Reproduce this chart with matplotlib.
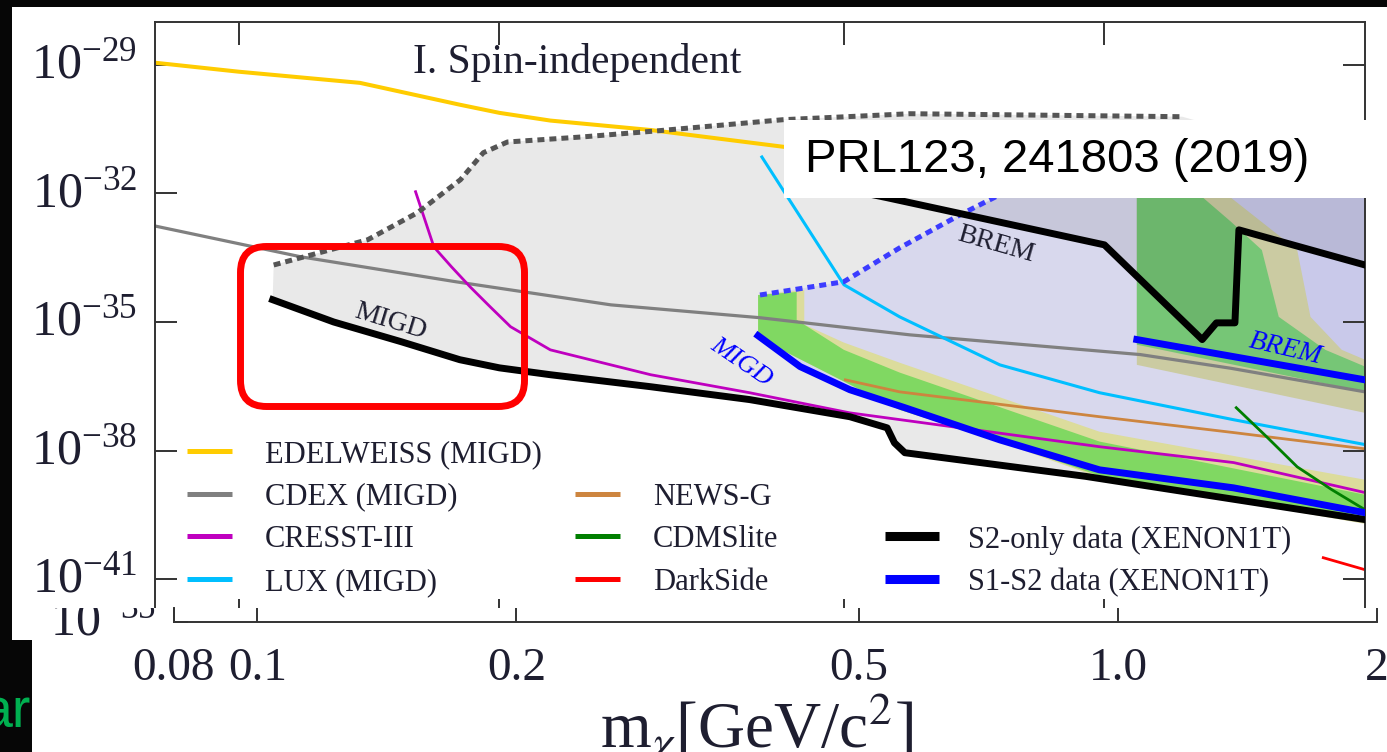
"""XENON1T light dark matter limits (Migdal / bremsstrahlung), slide crop."""

import numpy as np
import matplotlib
matplotlib.use("Agg")
import matplotlib.pyplot as plt
from matplotlib.patches import Rectangle, FancyBboxPatch
from matplotlib.ticker import NullLocator
from matplotlib.transforms import Bbox, TransformedBbox, ScaledTranslation

plt.rcParams["font.family"] = ["Liberation Serif", "DejaVu Serif"]
plt.rcParams["mathtext.fontset"] = "stix"

# ---- limit curves: mass [GeV/c^2] and log10(sigma / cm^2) ----
edelweiss_m = [0.08, 0.100, 0.138, 0.180, 0.200, 0.229, 0.299, 0.425, 0.75]
edelweiss_lg = [-28.95, -29.16, -29.42, -29.93, -30.12, -30.30, -30.52, -30.91, -31.45]

cdex_m = [0.08, 0.118, 0.178, 0.269, 0.40, 0.596, 1.10, 1.40, 2.0]
cdex_lg = [-32.76, -33.48, -34.06, -34.60, -34.90, -35.30, -35.76, -36.08, -36.63]

cresst_m = [0.160, 0.168, 0.176, 0.185, 0.195, 0.206, 0.229, 0.299, 0.389,
            0.508, 0.987, 1.41, 2.0]
cresst_lg = [-31.96, -33.25, -33.71, -34.18, -34.64, -35.11, -35.65, -36.23,
             -36.65, -37.12, -37.91, -38.28, -38.98]

lux_m = [0.402, 0.500, 0.580, 0.757, 0.987, 1.41, 2.0]
lux_lg = [-31.15, -34.13, -34.88, -36.00, -36.65, -37.28, -37.86]

newsg_m = [0.502, 0.580, 0.987, 1.41, 2.0]
newsg_lg = [-36.35, -36.63, -37.21, -37.58, -37.96]

cdmslite_m = [1.42, 1.54, 1.67, 1.83, 2.0]
cdmslite_lg = [-37.00, -37.68, -38.38, -38.91, -39.38]

darkside_m = [1.79, 2.0]
darkside_lg = [-40.50, -40.78]

# XENON1T S2-only (black) and S1-S2 (blue)
s2_migd_m = [0.1094, 0.1287, 0.154, 0.180, 0.200, 0.229, 0.299, 0.389, 0.508,
             0.561, 0.572, 0.588, 0.95, 2.0]
s2_migd_lg = [-34.48, -35.00, -35.46, -35.88, -36.07, -36.23, -36.51, -36.81,
              -37.21, -37.47, -37.82, -38.05, -38.60, -39.61]
s2_brem_m = [0.445, 0.561, 1.0, 1.297, 1.347, 1.415, 1.43, 2.0]
s2_brem_lg = [-31.68, -32.10, -33.20, -35.41, -35.02, -35.02, -32.85, -33.67]
s2_top_m = [0.1097, 0.1179, 0.1409, 0.1608, 0.1803, 0.1916, 0.2043, 0.2499,
            0.3043, 0.425, 0.596, 1.23]
s2_top_lg = [-33.67, -33.50, -33.08, -32.45, -31.68, -31.05, -30.80, -30.68,
             -30.54, -30.28, -30.14, -30.21]
s2_corner = (2.0, -31.4)

s1s2_migd_m = [0.398, 0.445, 0.508, 0.588, 0.757, 0.987, 1.41, 2.0]
s1s2_migd_lg = [-35.32, -36.04, -36.58, -37.00, -37.75, -38.45, -38.87, -39.45]
s1s2_brem_m = [1.09, 2.0]
s1s2_brem_lg = [-35.41, -36.35]
s1s2_top_m = [0.400, 0.500, 0.580, 0.681, 0.757, 1.0, 2.0]
s1s2_top_lg = [-34.37, -34.06, -33.27, -32.50, -32.03, -31.00, -31.40]

# sensitivity bands of the S1-S2 search
migd_2s_up_m = [0.398, 0.450, 0.450, 0.500, 0.580, 0.987, 2.0]
migd_2s_up_lg = [-34.37, -34.25, -35.06, -35.48, -35.95, -37.56, -38.68]
migd_2s_lo_m = [0.398, 0.580, 0.757, 0.987, 2.0]
migd_2s_lo_lg = [-35.37, -37.05, -37.80, -38.63, -39.71]
migd_1s_up_m = [0.398, 0.441, 0.441, 0.500, 0.580, 0.987, 2.0]
migd_1s_up_lg = [-34.37, -34.30, -34.95, -35.65, -36.18, -37.79, -39.03]
migd_1s_lo_m = [0.398, 0.580, 0.757, 0.987, 2.0]
migd_1s_lo_lg = [-35.37, -37.05, -37.78, -38.59, -39.61]

brem_region_m = [1.09, 2.0, 2.0, 1.09]
brem_region_lg = [-30.4, -30.4, -36.35, -35.41]
brem_1s_m = [1.09, 1.30, 1.30, 1.40, 1.52, 1.59, 1.80, 2.0, 2.0, 1.09]
brem_1s_lg = [-30.4, -30.4, -32.10, -32.66, -33.32, -34.88, -35.65, -36.04,
              -36.63, -35.53]
brem_2s_m = [1.09, 1.40, 1.40, 1.67, 1.73, 1.88, 2.0, 2.0, 1.09]
brem_2s_lg = [-30.4, -30.4, -32.10, -33.32, -34.88, -35.65, -35.88, -37.12,
              -36.00]

ytick_exp = [-29, -32, -35, -38, -41]
top_ticks = [0.1, 0.2, 0.5, 1.0]
low_ticks = [0.08, 0.1, 0.2, 0.5, 1.0, 2.0]
low_labels = ["0.08", "0.1", "0.2", "0.5", "1.0", "2"]

TXT = "#1e1e30"
W, H = 1387, 752


def frame(x0, y0, x1, y1):
    """Pixel box (origin top-left) -> figure fraction [l, b, w, h]."""
    return [x0 / W, 1 - y1 / H, (x1 - x0) / W, (y1 - y0) / H]


def xs(lg):
    return 10.0 ** np.asarray(lg)


def poly(m_a, lg_a, m_b=None, lg_b=None):
    mm = list(m_a) + (list(m_b)[::-1] if m_b is not None else [])
    ll = list(lg_a) + (list(lg_b)[::-1] if lg_b is not None else [])
    return mm, xs(ll)


fig = plt.figure(figsize=(W / 100, H / 100), dpi=100)
fig.patch.set_facecolor("#060606")
lift = ScaledTranslation(0, 0.05, fig.dpi_scale_trans)  # raise tick labels 5 px


def overlay(z):
    o = fig.add_axes([0, 0, 1, 1], zorder=z)
    o.set_xlim(0, W)
    o.set_ylim(H, 0)
    o.set_facecolor("none")
    o.axis("off")
    return o


back = overlay(-1)
back.add_patch(Rectangle((12, 7), W - 12, 633, fc="white", ec="none"))

# ---------------- main panel ----------------
ax = fig.add_axes(frame(155, 22, 1365, 622), zorder=0)
ax.set_xscale("log")
ax.set_yscale("log")
ax.set_xlim(0.08, 2.0)
ax.set_ylim(1e-42, 1e-28)

# excluded regions and bands
m, s = poly(s2_top_m + [s2_corner[0]], s2_top_lg + [s2_corner[1]], s2_migd_m, s2_migd_lg)
ax.fill(m, s, color="#e9e9e9", lw=0, zorder=1)
m, s = poly(s1s2_top_m, s1s2_top_lg, s1s2_migd_m, s1s2_migd_lg)
ax.fill(m, s, color="#d8d8ed", lw=0, zorder=1.1)
m, s = poly(brem_region_m, brem_region_lg)
ax.fill(m, s, color="#c9c9ea", lw=0, zorder=1.2)
m, s = poly(brem_2s_m, brem_2s_lg)
ax.fill(m, s, color="#cbcba2", lw=0, zorder=1.3)
m, s = poly(brem_1s_m, brem_1s_lg)
ax.fill(m, s, color="#76c676", lw=0, zorder=1.4)
m, s = poly(migd_2s_up_m, migd_2s_up_lg, migd_2s_lo_m, migd_2s_lo_lg)
ax.fill(m, s, color="#dcdc9c", lw=0, zorder=1.5)
m, s = poly(migd_1s_up_m, migd_1s_up_lg, migd_1s_lo_m, migd_1s_lo_lg)
ax.fill(m, s, color="#80d862", lw=0, zorder=1.6)

# overlap of the S2-only BREM region with the S1-S2 region
grid = np.logspace(np.log10(0.4), np.log10(2.0), 2000)
lg_black = np.interp(np.log10(grid), np.log10(s2_brem_m), s2_brem_lg)
lg_dot = np.interp(np.log10(grid), np.log10(s1s2_top_m), s1s2_top_lg)
ax.fill_between(grid, xs(lg_black), xs(lg_dot), where=lg_dot > lg_black,
                interpolate=True, color="black", alpha=0.08, lw=0, zorder=1.7)

# other experiments
ax.plot(edelweiss_m, xs(edelweiss_lg), color="#ffcc00", lw=2.9, zorder=2)
ax.plot(cdex_m, xs(cdex_lg), color="#808080", lw=2.3, zorder=2)
ax.plot(cresst_m, xs(cresst_lg), color="#bf00bf", lw=2.0, zorder=2)
ax.plot(lux_m, xs(lux_lg), color="#00bfff", lw=2.2, zorder=2)
ax.plot(newsg_m, xs(newsg_lg), color="#cd853f", lw=2.0, zorder=2)
ax.plot(cdmslite_m, xs(cdmslite_lg), color="#007f00", lw=2.0, zorder=2)
ax.plot(darkside_m, xs(darkside_lg), color="#ff0000", lw=2.0, zorder=2)

# XENON1T limits
dots = dict(lw=3.6, linestyle=(0, (1.4, 1.0)), dash_capstyle="butt", zorder=3)
ax.plot(s2_top_m, xs(s2_top_lg), color="#555555", **dots)
ax.plot(s1s2_top_m, xs(s1s2_top_lg), color="#3c3cff", **dots)
ax.plot(s2_migd_m, xs(s2_migd_lg), color="black", lw=5, zorder=3)
ax.plot(s2_brem_m, xs(s2_brem_lg), color="black", lw=5, zorder=3)
ax.plot(s1s2_migd_m, xs(s1s2_migd_lg), color="#0000ff", lw=5, zorder=3)
ax.plot(s1s2_brem_m, xs(s1s2_brem_lg), color="#0000ff", lw=5, zorder=3)

# curve annotations
ax.text(0.1497, 10 ** -35.0, "MIGD", color=TXT, fontsize=20, rotation=-17,
        ha="center", va="center", zorder=4)
ax.text(0.380, 10 ** -35.95, "MIGD", color="#0000ff", fontsize=19, rotation=-34,
        style="italic", ha="center", va="center", zorder=4)
ax.text(0.749, 10 ** -33.2, "BREM", color=TXT, fontsize=20, rotation=-16,
        ha="center", va="center", zorder=4)
ax.text(1.62, 10 ** -35.62, "BREM", color="#0000ff", fontsize=20, rotation=-13,
        style="italic", ha="center", va="center", zorder=4)

ax.text((413 - 155) / 1210, (622 - 62) / 600, "I. Spin-independent", color=TXT,
        fontsize=30, transform=ax.transAxes, ha="left", va="center")

# axes styling
for sp in ax.spines.values():
    sp.set_linewidth(1.4)
    sp.set_color("#333333")
ax.set_xticks(top_ticks)
ax.xaxis.set_minor_locator(NullLocator())
ax.tick_params(axis="x", which="major", direction="in", top=True, bottom=True,
               labelbottom=False, length=16.5, width=1.4, color="#333333")
ax.set_yticks(xs(ytick_exp), labels=[rf"$\mathregular{{10^{{{e}}}}}$" for e in ytick_exp])
ax.yaxis.set_minor_locator(NullLocator())
ax.tick_params(axis="y", which="major", direction="in", left=True, right=True,
               length=16, width=1.4, color="#333333", labelsize=36, pad=13,
               labelcolor=TXT)
for lab in ax.get_yticklabels():
    lab.set_transform(lab.get_transform() + lift)

# legend (three columns, drawn by hand)
legend_cols = [
    [("EDELWEISS (MIGD)", "#ffcc00", 3.6), ("CDEX (MIGD)", "#808080", 3.6),
     ("CRESST-III", "#bf00bf", 3.6), ("LUX (MIGD)", "#00bfff", 3.6)],
    [None, ("NEWS-G", "#cd853f", 3.6), ("CDMSlite", "#007f00", 3.6),
     ("DarkSide", "#ff0000", 3.6)],
    [None, None, ("S2-only data (XENON1T)", "black", 6.5),
     ("S1-S2 data (XENON1T)", "#0000ff", 6.5)],
]
col_px = [(187, 232, 265), (575, 620, 653), (885, 939, 968)]


def afrac(x, y):
    return (x - 155) / 1210, (622 - y) / 600


for col, (h0, h1, tx) in zip(legend_cols, col_px):
    for row, entry in enumerate(col):
        if entry is None:
            continue
        label, color, lw = entry
        y = 451 + 42.7 * row
        (a0, b), (a1, _) = afrac(h0, y), afrac(h1, y)
        ax.plot([a0, a1], [b, b], color=color, lw=lw, transform=ax.transAxes,
                solid_capstyle="butt", zorder=5)
        ax.text(afrac(tx, y)[0], b, label, color=TXT, fontsize=22,
                transform=ax.transAxes, ha="left", va="center_baseline", zorder=5)

# ---------------- lower strip (second copy of the axis) ----------------
lowbg = overlay(1)
lowbg.add_patch(Rectangle((32, 608), W - 32, H - 608, fc="white", ec="none"))
lowbg.text(31, 727, "ar", color="#00b050", fontsize=40, family="Liberation Sans",
           ha="right", va="baseline")
strip_box = TransformedBbox(Bbox.from_extents(32 / W, 0, 1, (H - 608) / H),
                            fig.transFigure)

axl = fig.add_axes(frame(174, 608, 1377, 622), zorder=2)
axl.set_facecolor("none")
axl.set_xscale("log")
axl.set_yscale("log")
axl.set_xlim(0.08, 2.0)
axl.set_ylim(1e-35, 10 ** -34.67)
for name in ("top", "right"):
    axl.spines[name].set_visible(False)
for name in ("left", "bottom"):
    axl.spines[name].set_linewidth(1.4)
    axl.spines[name].set_color("#333333")
axl.set_xticks(low_ticks, labels=low_labels)
axl.xaxis.set_minor_locator(NullLocator())
axl.set_yticks([1e-35], labels=[r"$\mathregular{10^{-35}}$"])
axl.yaxis.set_minor_locator(NullLocator())
axl.tick_params(axis="both", which="major", direction="in", length=10, width=1.4,
                color="#333333", labelcolor=TXT)
axl.tick_params(axis="x", labelsize=34, pad=18)
axl.tick_params(axis="y", labelsize=36, pad=13)
for lab in axl.get_yticklabels():
    lab.set_transform(lab.get_transform() + lift)
    lab.set_clip_box(strip_box)
    lab.set_clip_on(True)
axl.set_xlabel(r"m$_{\chi}$[GeV/c$^{2}$]", fontsize=47, color=TXT)
axl.xaxis.set_label_coords((757 - 174) / 1203, -5.0)

# ---------------- slide decorations ----------------
top = overlay(4)
top.add_patch(FancyBboxPatch((240.5, 246.5), 284, 160,
                             boxstyle="round,pad=0,rounding_size=26",
                             fc="none", ec="#ff0000", lw=5))
top.add_patch(Rectangle((784, 120), W - 784, 78, fc="white", ec="none"))
top.text(805, 160, "PRL123, 241803 (2019)", family="Liberation Sans", fontsize=34,
         color="black", ha="left", va="center")

fig.savefig("out.png", dpi=100)
